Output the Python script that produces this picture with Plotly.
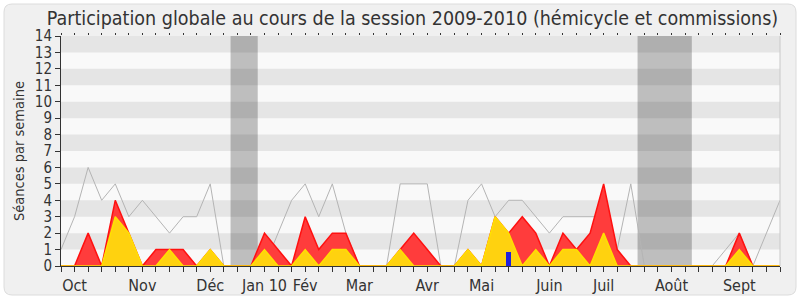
import plotly.graph_objects as go

weeks = list(range(54))
total_line = [1, 3, 6, 4, 5, 3, 4, 3, 2, 3, 3, 5, 0, 0, 0, 0, 2, 4, 5, 3,
              5, 2, 0, 0, 0, 5, 5, 5, 0, 0, 4, 5, 3, 4, 4, 3, 2, 3, 3, 3,
              3, 1, 5, 0, 0, 0, 0, 0, 0, 1, 2, 0, 2, 4]
red_vals = [0, 0, 2, 0, 4, 2, 0, 1, 1, 1, 0, 1, 0, 0, 0, 2, 1, 0, 3, 1,
            2, 2, 0, 0, 0, 1, 2, 1, 0, 0, 1, 0, 3, 2, 3, 2, 0, 2, 1, 2,
            5, 1, 0, 0, 0, 0, 0, 0, 0, 0, 2, 0, 0, 0]
yellow_vals = [0, 0, 0, 0, 3, 2, 0, 0, 1, 0, 0, 1, 0, 0, 0, 1, 0, 0, 1, 0,
               1, 1, 0, 0, 0, 1, 0, 0, 0, 0, 1, 0, 3, 2, 0, 1, 0, 1, 1, 0,
               2, 0, 0, 0, 0, 0, 0, 0, 0, 0, 1, 0, 0, 0]
blue_x = [33]
blue_vals = [0.87]
vacations = [(12.5, 14.5), (42.5, 46.5)]
month_pos = [1, 6, 11, 15, 18, 22, 27, 31, 36, 40, 45, 50]
month_labels = ["Oct", "Nov", "Déc", "Jan 10", "Fév", "Mar", "Avr", "Mai",
                "Juin", "Juil", "Août", "Sept"]
y_ticks = list(range(15))

FONT = "DejaVu Sans Condensed, DejaVu Sans, sans-serif"
TXT = "#333333"

fig = go.Figure()
fig.add_trace(go.Scatter(x=weeks, y=total_line, mode="lines",
                         line=dict(color="#b4b4b4", width=1), hoverinfo="skip"))
fig.add_trace(go.Scatter(x=weeks, y=red_vals, mode="lines", fill="tozeroy",
                         fillcolor="#ff3c3c", line=dict(color="#ff1010", width=1.5)))
fig.add_trace(go.Scatter(x=weeks, y=yellow_vals, mode="lines", fill="tozeroy",
                         fillcolor="#ffd20f", line=dict(color="#ffe000", width=1.5)))
fig.add_trace(go.Bar(x=blue_x, y=blue_vals, width=0.38, xaxis="x2", yaxis="y",
                     marker=dict(color="#2020dd", line=dict(width=0))))

L, R, T, B = 61, 20, 36, 34
W, H = 800, 300
pw, ph = W - L - R, H - T - B

def px(x):
    return (x - L) / pw

def py(y):
    return (H - B - y) / ph

shapes = []
# outer rounded frame
x0, x1, y0, y1, r = 4, 796, 4, 295, 8
path = (f"M {px(x0+r)},{py(y0)} L {px(x1-r)},{py(y0)} Q {px(x1)},{py(y0)} {px(x1)},{py(y0+r)} "
        f"L {px(x1)},{py(y1-r)} Q {px(x1)},{py(y1)} {px(x1-r)},{py(y1)} "
        f"L {px(x0+r)},{py(y1)} Q {px(x0)},{py(y1)} {px(x0)},{py(y1-r)} "
        f"L {px(x0)},{py(y0+r)} Q {px(x0)},{py(y0)} {px(x0+r)},{py(y0)} Z")
shapes.append(dict(type="path", path=path, xref="paper", yref="paper", layer="below",
                   fillcolor="#f0f0f0", line=dict(color="#dcdcdc", width=1)))
shapes.append(dict(type="rect", xref="paper", yref="paper", x0=0, x1=1, y0=0, y1=1,
                   fillcolor="#f9f9f9", line=dict(width=0), layer="below"))
for a, b in vacations:
    shapes.append(dict(type="rect", xref="x", yref="paper", x0=a, x1=b, y0=0, y1=1,
                       fillcolor="#bebebe", line=dict(width=0), layer="below"))
for k in range(1, 14, 2):
    shapes.append(dict(type="rect", xref="paper", yref="y", x0=0, x1=1, y0=k, y1=k + 1,
                       fillcolor="rgba(0,0,0,0.078)", line=dict(width=0), layer="below"))
shapes.append(dict(type="line", xref="paper", yref="paper", x0=1, x1=1, y0=0, y1=1,
                   line=dict(color="#c8c8c8", width=1)))

ticktext = []
for w in weeks:
    ticktext.append(month_labels[month_pos.index(w)] if w in month_pos else "")

fig.update_layout(
    width=W, height=H,
    margin=dict(l=L, r=R, t=T, b=B, autoexpand=False),
    paper_bgcolor="white", plot_bgcolor="#f9f9f9",
    showlegend=False,
    font=dict(family=FONT, color=TXT, size=16),
    title=dict(text="Participation globale au cours de la session 2009-2010 (hémicycle et commissions)",
               x=px(412.5), xref="paper", xanchor="center",
               y=1 - 18 / H, yref="container", yanchor="middle",
               font=dict(family=FONT, size=19.5, color=TXT)),
    shapes=shapes,
    xaxis=dict(range=[0, 53], tickvals=weeks, ticktext=ticktext, ticks="outside",
               ticklen=5, tickcolor="#333", showgrid=False, zeroline=False,
               showline=True, linecolor="#333", linewidth=1,
               tickfont=dict(family=FONT, size=16, color=TXT)),
    xaxis2=dict(range=[0, 53], overlaying="x", side="top", anchor="y", matches="x",
                tickvals=weeks, ticks="outside", ticklen=2, tickcolor="#333",
                showticklabels=False, showgrid=False, zeroline=False, showline=False),
    yaxis=dict(range=[0, 14], tickvals=y_ticks, ticks="outside", ticklen=5,
               tickcolor="#333", showgrid=False, zeroline=False, showline=True,
               linecolor="#333", linewidth=1,
               tickfont=dict(family=FONT, size=15, color=TXT),
               title=dict(text="Séances par semaine", standoff=6,
                          font=dict(family=FONT, size=14.5, color=TXT))),
    bargap=0,
)

fig.write_html("out.html")
